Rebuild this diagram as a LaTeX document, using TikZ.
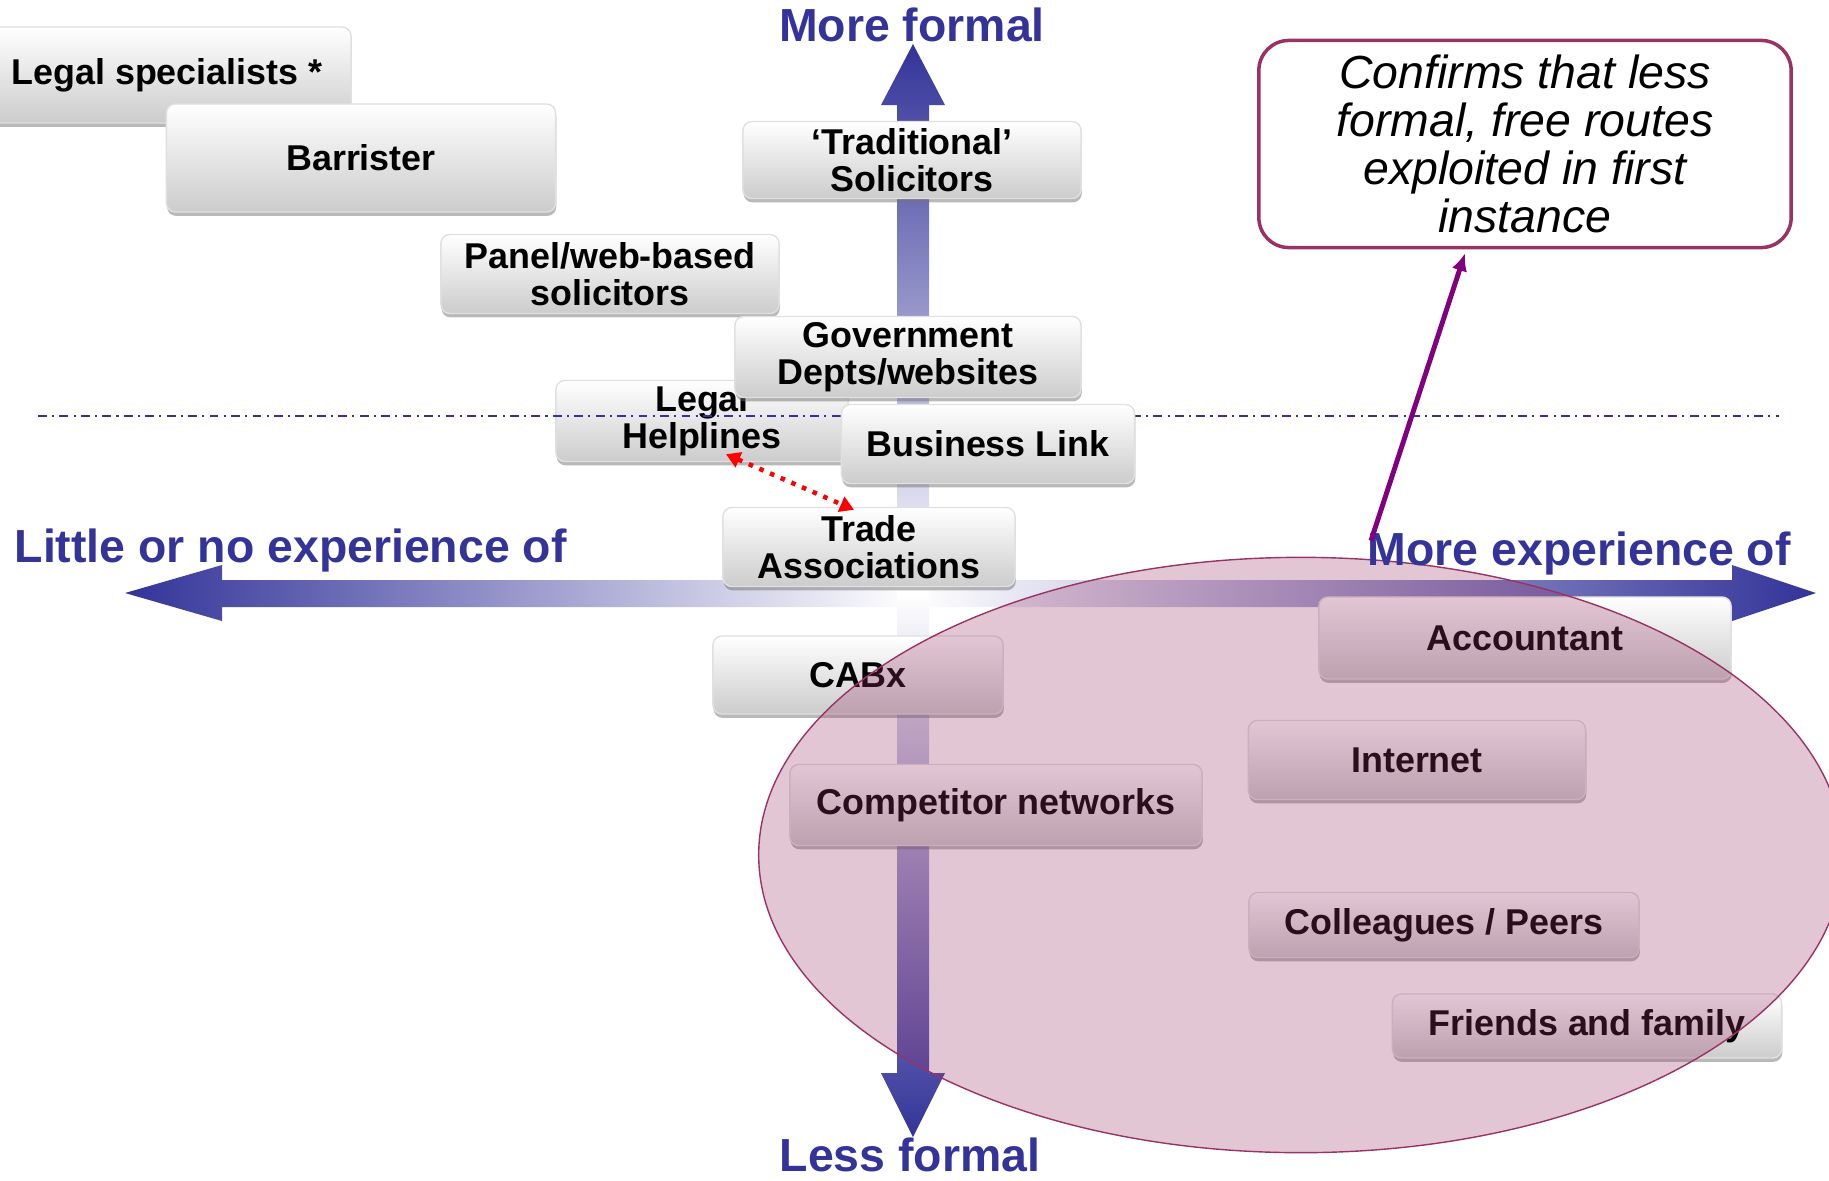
\documentclass[tikz,border=0pt]{standalone}
\usepackage{fontspec}
\setmainfont{Liberation Sans}
\usetikzlibrary{shapes.geometric, arrows.meta, shadows}

\definecolor{axisblue}{RGB}{51,51,153}
\definecolor{zonepink}{RGB}{153,51,102}
\definecolor{notepurple}{RGB}{128,0,128}

\begin{document}
\begin{tikzpicture}[x=0.01cm, y=-0.01cm,
  tile/.style={rounded corners=0.09cm, draw=black!12, top color=white, bottom color=black!20,
    inner sep=0pt, align=center, font=\fontsize{10.2}{10.5}\selectfont\bfseries,
    drop shadow={shadow xshift=0.2pt, shadow yshift=-1.1pt, fill=black!55, opacity=.5}},
  axislabel/.style={text=axisblue, inner sep=0pt, font=\fontsize{13.2}{14}\selectfont\bfseries},
  zone/.style={ellipse, draw=zonepink, thin, fill=zonepink, fill opacity=.28, inner sep=0pt},
  note/.style={draw=zonepink, line width=1pt, rounded corners=0.3cm, fill=white, align=center,
    font=\fontsize{13.2}{13.7}\selectfont\itshape},
  link/.style={red, dotted, line width=1.3pt, {Triangle[length=4pt,width=4.5pt]}-{Triangle[length=4pt,width=4.5pt]}},
  pointer/.style={notepurple, line width=1.4pt, -{Latex[length=5pt,width=4.5pt]}}]
  \useasboundingbox (0,0) rectangle (1829,1181);

  % axes, fading out towards the middle
  \shade[left color=axisblue, right color=white]
    (912,580) -- (222,580) -- (222,565) -- (125,593) -- (222,621) -- (222,607) -- (912,607) -- cycle;
  \shade[left color=white, right color=axisblue]
    (912,580) -- (1732,580) -- (1732,565) -- (1816,593) -- (1732,621) -- (1732,607) -- (912,607) -- cycle;
  \shade[top color=axisblue, bottom color=white]
    (897,593) -- (897,105) -- (881,105) -- (913,44) -- (945,105) -- (929,105) -- (929,593) -- cycle;
  \shade[top color=white, bottom color=axisblue]
    (897,593) -- (897,1073) -- (881,1073) -- (913,1137) -- (945,1073) -- (929,1073) -- (929,593) -- cycle;

  % sources of advice
  \node[tile, minimum width=3.68cm, minimum height=0.96cm] (spec) at (167,75) {Legal specialists *};
  \node[tile, minimum width=3.89cm, minimum height=1.08cm] (barr) at (361,158) {Barrister};
  \node[tile, minimum width=3.38cm, minimum height=0.77cm] (trad) at (912,160) {‘Traditional’\\Solicitors};
  \node[tile, minimum width=3.38cm, minimum height=0.79cm] (panel) at (610,274) {Panel/web-based\\solicitors};
  \node[tile, minimum width=2.92cm, minimum height=0.81cm] (help) at (702,421) {Legal\\Helplines};
  \coordinate (lineL) at (38,416);
  \coordinate (lineR) at (1779,416);
  \draw[axisblue, thin, dash pattern=on 2.5pt off 1.5pt on 0.6pt off 1.5pt] (lineL) -- (lineR);
  \node[tile, minimum width=3.46cm, minimum height=0.81cm] (gov) at (908,357) {Government\\Depts/websites};
  \node[tile, minimum width=2.93cm, minimum height=0.79cm] (blink) at (988,444) {Business Link};
  \node[tile, minimum width=2.92cm, minimum height=0.79cm] (trade) at (869,547) {Trade\\Associations};
  \node[tile, minimum width=2.90cm, minimum height=0.78cm] (cabx) at (858,675) {CABx};
  \node[tile, minimum width=4.12cm, minimum height=0.81cm] (comp) at (996,805) {Competitor networks};
  \node[tile, minimum width=4.12cm, minimum height=0.82cm] (acct) at (1525,638) {Accountant};
  \node[tile, minimum width=3.37cm, minimum height=0.79cm] (net) at (1417,760) {Internet};
  \node[tile, minimum width=3.90cm, minimum height=0.65cm] (peers) at (1444,925) {Colleagues / Peers};
  \node[tile, minimum width=3.89cm, minimum height=0.64cm] (family) at (1587,1026) {Friends and family};

  % informal routes
  \node[zone, minimum width=10.84cm, minimum height=5.95cm] (informal) at (1301,855) {};

  \draw[link] ([shift={(24,-8)}]help.south) -- ([shift={(-15,3)}]trade.north);

  \node[axislabel, anchor=base] (formal) at (912,41) {More formal};
  \node[axislabel, anchor=base] (lessformal) at (910,1171) {Less formal};
  \node[axislabel, anchor=base west] (little) at (14,562) {Little or no experience of};
  \node[axislabel, anchor=base west] (more) at (1367,565) {More experience of};

  \node[note, minimum width=5.32cm, minimum height=2.07cm] (confirm) at (1525,144)
    {Confirms that less\\formal, free routes\\exploited in first\\instance};
  \draw[pointer] ([shift={(70,-16)}]informal.north) -- ([shift={(-60,4)}]confirm.south);
\end{tikzpicture}
\end{document}
